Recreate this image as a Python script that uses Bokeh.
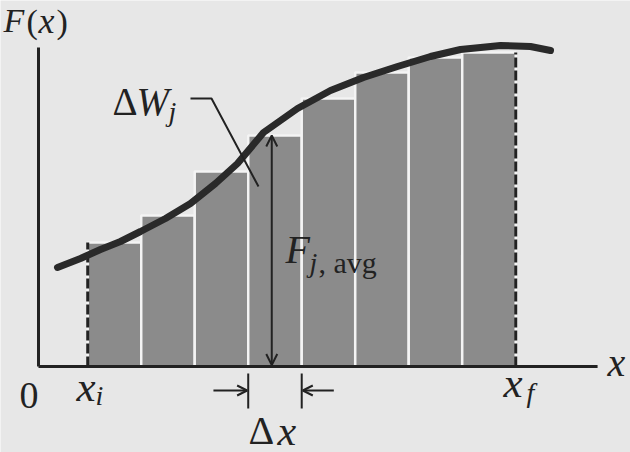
from bokeh.plotting import figure
from bokeh.models import Range1d, Arrow, OpenHead
from bokeh.core.properties import value
from bokeh.embed import file_html
from bokeh.resources import INLINE

# ---------------- data (chart units) ----------------
x_i = 0.92          # start of interval
dx = 1.0            # width of each strip
bar_heights = [12.4, 15.1, 19.5, 23.1, 26.8, 29.4, 30.9, 31.4]   # F_j,avg per strip
curve_x = [0.355, 0.785, 1.159, 1.533, 1.907, 2.374, 2.841, 3.308, 3.720,
           4.206, 4.841, 5.458, 6.075, 6.710, 7.327, 7.888, 8.636, 9.196, 9.570]
curve_y = [9.9, 10.8, 11.7, 12.5, 13.5, 14.8, 16.3, 18.3, 20.3,
           23.4, 25.8, 27.6, 28.9, 30.0, 31.0, 31.7, 32.1, 32.0, 31.6]
j_index = 3         # highlighted strip (F_j,avg arrow, delta x)

n = len(bar_heights)
lefts = [x_i + k * dx for k in range(n)]
rights = [l + dx for l in lefts]
x_f = rights[-1]

# ---------------- style ----------------
PAPER = "#e7e7e7"
INK = "#222222"
BAR = "#8b8b8b"
SERIF = value("Liberation Serif")
W, H = 630, 452
SX, SY = 53.5, 10.0       # pixels per unit
OX, OY = 38, 366          # pixel position of the origin
TY = -13                  # text baseline correction (px)

x0 = -OX / SX
y1 = OY / SY
p = figure(width=W, height=H, output_backend="svg", toolbar_location=None,
           x_axis_type=None, y_axis_type=None, min_border=0,
           x_range=Range1d(x0, x0 + W / SX), y_range=Range1d(y1 - H / SY, y1))
p.grid.visible = False
p.outline_line_color = None
p.background_fill_color = PAPER
p.border_fill_color = PAPER

# strips
p.quad(left=lefts, right=rights, bottom=[0] * n, top=bar_heights,
       fill_color=BAR, line_color="#f4f4f4", line_width=2.5)

# dashed edges at x_i and x_f
p.segment(x0=[x_i, x_f], y0=[0, 0], x1=[x_i, x_f], y1=[bar_heights[0], bar_heights[-1]],
          line_color=INK, line_width=3, line_dash="10 3")

# axes
p.line(x=[0, 0], y=[31.9, 0], line_color=INK, line_width=3)
p.line(x=[0, 10.45], y=[0, 0], line_color=INK, line_width=3)

# curve F(x)
p.line(x=curve_x, y=curve_y, line_color="#2a2a2a", line_width=7, line_cap="round")

# F_j,avg double arrow
ax = lefts[j_index] + 0.44 * dx
p.add_layout(Arrow(x_start=ax, y_start=0.15, x_end=ax, y_end=bar_heights[j_index],
                   start=OpenHead(size=11, line_color=INK, line_width=2),
                   end=OpenHead(size=11, line_color=INK, line_width=2),
                   line_color=INK, line_width=2))

# delta x markers
p.segment(x0=[lefts[j_index], rights[j_index]], y0=[-0.7, -0.7],
          x1=[lefts[j_index], rights[j_index]], y1=[-4.2, -4.2],
          line_color=INK, line_width=2)
p.add_layout(Arrow(x_start=lefts[j_index] - 0.65, y_start=-2.4, x_end=lefts[j_index] - 0.02, y_end=-2.4,
                   end=OpenHead(size=10, line_color=INK, line_width=2), line_color=INK, line_width=2))
p.add_layout(Arrow(x_start=rights[j_index] + 0.6, y_start=-2.4, x_end=rights[j_index] + 0.02, y_end=-2.4,
                   end=OpenHead(size=10, line_color=INK, line_width=2), line_color=INK, line_width=2))

# leader line for Delta W_j
p.line(x=[2.841, 3.234, 4.112], y=[26.8, 26.8, 18.0], line_color=INK, line_width=2)


def txt(X, Y, s, size, italic=False):
    p.text(x=[(X - OX) / SX], y=[(OY - (Y + TY)) / SY], text=[s], text_font=SERIF,
           text_font_size=value(f"{size}px"),
           text_font_style="italic" if italic else "normal", text_color=INK,
           text_baseline="alphabetic", text_align="left")


# F(x)
txt(3, 33, "F", 34, True)
txt(26, 34, "(", 34)
txt(38, 33, "x", 36, True)
txt(56, 34, ")", 34)
# x axis label
txt(607, 375, "x", 40, True)
# origin
txt(19, 408, "0", 38)
# x_i
txt(76, 399, "x", 43, True)
txt(95, 408, "i", 28, True)
# x_f
txt(503, 395, "x", 43, True)
txt(526, 405, "f", 28, True)
# Delta x
txt(248, 443, "Δ", 40)
txt(277, 443, "x", 42, True)
# Delta W_j
txt(112, 114, "Δ", 39)
txt(136, 114, "W", 39, True)
txt(168, 124, "j", 28, True)
# F_j,avg
txt(285, 262, "F", 40, True)
txt(309, 275, "j", 28, True)
txt(318, 275, ", avg", 30)

open("out.html", "w").write(file_html(p, INLINE))
